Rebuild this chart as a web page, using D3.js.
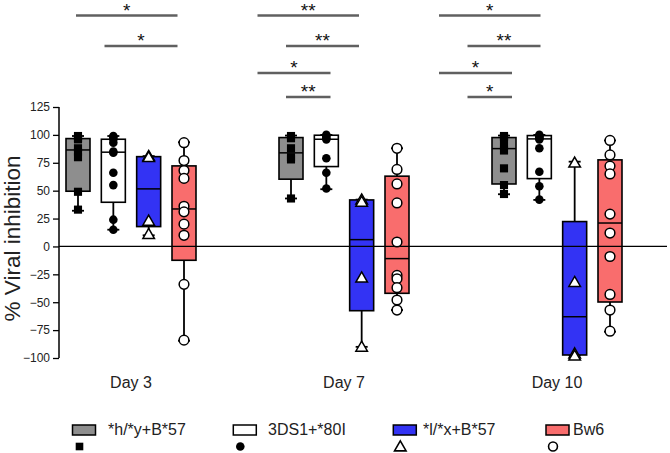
<!DOCTYPE html>
<html>
<head>
<meta charset="utf-8">
<script src="https://cdn.jsdelivr.net/npm/d3@7"></script>
<style>
  html, body { margin: 0; padding: 0; background: #fff; }
  svg { display: block; font-family: "Liberation Sans", Arial, sans-serif; }
</style>
</head>
<body>
<script>
// ---------------- data ----------------
const days = ["Day 3", "Day 7", "Day 10"];
const groups = ["*h/*y+B*57", "3DS1+*80I", "*l/*x+B*57", "Bw6"];
const yTicks = [-100, -75, -50, -25, 0, 25, 50, 75, 100, 125];

// box stats per day: [min, q1, median, q3, max]
const hyB57Box  = [[32, 49.5, 86.5, 96.7, 99], [43, 60.3, 83.9, 97.6, 99.4], [46.8, 56, 87.7, 97.6, 99.4]];
const ds1Box    = [[15, 39.6, 84.5, 96.1, 99], [51.3, 71.6, 96.1, 99.7, 100], [41.7, 60.8, 96.4, 99.4, 100]];
const lxB57Box  = [[10, 17.8, 51.6, 80.5, 81], [-90, -57.6, 6.1, 41.7, 42], [-97.5, -97.3, -63, 22.3, 76]];
const bw6Box    = [[-84.5, -12.4, 33.6, 72.2, 93.4], [-57, -42, -10.9, 63, 88], [-76.4, -49.8, 21, 77.6, 95]];

// individual points per day
const hyB57Pts = [[99, 97, 96, 88, 85, 80, 49, 33], [99, 97, 88, 80, 78, 43], [99, 98, 97, 90, 86, 70, 55, 47]];
const ds1Pts   = [[99, 98, 96, 93, 85, 84, 66, 55, 24, 15], [100, 99, 97, 96, 79, 66, 52], [100, 99, 98, 97, 96, 88, 67, 54, 42]];
const lxB57Pts = [[81, 80, 23, 11], [42, 40, -28, -90], [75, -32, -96, -98]];
const bw6Pts   = [[93, 77, 68, 61, 36, 31, 20, 10, -34, -84], [88, 69, 56, 39, 4, -26, -29, -37, -48, -57], [95, 82, 72, 65, 29, 12, -9, -43, -57, -76]];

// significance comparisons: [day, fromGroupIndex, toGroupIndex, row, label]
const comparisons = [
  ["Day 3", 0, 3, 0, "*"], ["Day 3", 1, 3, 1, "*"],
  ["Day 7", 0, 3, 0, "**"], ["Day 7", 1, 3, 1, "**"], ["Day 7", 0, 2, 2, "*"], ["Day 7", 1, 2, 3, "**"],
  ["Day 10", 0, 3, 0, "*"], ["Day 10", 1, 3, 1, "**"], ["Day 10", 0, 2, 2, "*"], ["Day 10", 1, 2, 3, "*"]
];

const boxSets = [hyB57Box, ds1Box, lxB57Box, bw6Box];
const ptSets = [hyB57Pts, ds1Pts, lxB57Pts, bw6Pts];

// ---------------- styles ----------------
const fills = ["#8e8e8e", "#ffffff", "#3333f4", "#f96d6d"];
const symbols = [d3.symbolSquare, d3.symbolCircle, d3.symbolTriangle, d3.symbolCircle];
const symSizes = [66, 58, 58, 74];
const symFill = ["#000", "#000", "#fff", "#fff"];
const symStroke = ["none", "none", "#000", "#000"];

const W = 670, H = 453;
const svg = d3.select("body").append("svg").attr("width", W).attr("height", H);

// scales
const y = d3.scaleLinear().domain([-100, 125]).range([358, 107]);
const xDay = d3.scalePoint().domain(days).range([131, 557]);
const xGroup = d3.scalePoint().domain(d3.range(groups.length)).range([-53, 53]);
const boxW = 24, capW = 12;
const cx = (di, gi) => xDay(days[di]) + xGroup(gi);

// y axis
const axisX = 59;
const yAxis = d3.axisLeft(y).tickValues(yTicks).tickSize(6).tickPadding(3);
const gy = svg.append("g").attr("transform", `translate(${axisX},0)`).call(yAxis);
gy.select(".domain").attr("stroke", "#000").attr("stroke-width", 1.5).attr("d", `M0,${y(125)}V${y(-100)}`);
gy.selectAll(".tick line").attr("stroke", "#000").attr("stroke-width", 1.3);
gy.selectAll(".tick text").attr("font-size", 12).attr("fill", "#222").attr("font-family", "Liberation Sans, Arial, sans-serif");

svg.append("text")
  .attr("transform", `translate(20,${(y(125) + y(-100)) / 2 + 6}) rotate(-90)`)
  .attr("text-anchor", "middle")
  .attr("font-size", 22.5)
  .attr("fill", "#222")
  .text("% Viral inhibition");

// boxes
const boxG = svg.append("g");
boxSets.forEach((set, gi) => {
  set.forEach((s, di) => {
    const [mn, q1, md, q3, mx] = s;
    const c = cx(di, gi);
    const g = boxG.append("g");
    g.append("line").attr("x1", c).attr("x2", c).attr("y1", y(mx)).attr("y2", y(q3))
      .attr("stroke", "#000").attr("stroke-width", 1.8);
    g.append("line").attr("x1", c).attr("x2", c).attr("y1", y(q1)).attr("y2", y(mn))
      .attr("stroke", "#000").attr("stroke-width", 1.8);
    [mx, mn].forEach(v => g.append("line").attr("x1", c - capW / 2).attr("x2", c + capW / 2)
      .attr("y1", y(v)).attr("y2", y(v)).attr("stroke", "#000").attr("stroke-width", 1.8));
    g.append("rect").attr("x", c - boxW / 2).attr("y", y(q3)).attr("width", boxW)
      .attr("height", y(q1) - y(q3)).attr("fill", fills[gi]).attr("stroke", "#000").attr("stroke-width", 1.6);
    g.append("line").attr("x1", c - boxW / 2).attr("x2", c + boxW / 2).attr("y1", y(md)).attr("y2", y(md))
      .attr("stroke", "#000").attr("stroke-width", 1.5);
  });
});

// zero line
svg.append("line").attr("x1", axisX).attr("x2", 667).attr("y1", y(0)).attr("y2", y(0))
  .attr("stroke", "#000").attr("stroke-width", 1.2);

// points
const ptG = svg.append("g");
ptSets.forEach((set, gi) => {
  set.forEach((pts, di) => {
    const c = cx(di, gi);
    ptG.selectAll(null).data(pts).enter().append("path")
      .attr("d", d3.symbol().type(symbols[gi]).size(symSizes[gi]))
      .attr("transform", v => `translate(${c},${y(v) + (gi === 2 ? 1 : 0)})`)
      .attr("fill", symFill[gi]).attr("stroke", symStroke[gi]).attr("stroke-width", 1.5);
  });
});

// day labels
svg.append("g").selectAll("text").data(days).enter().append("text")
  .attr("x", d => xDay(d)).attr("y", 388)
  .attr("text-anchor", "middle").attr("font-size", 16).attr("fill", "#222")
  .text(d => d);

// significance bars
const sigX = d3.scalePoint().domain(days).range([76, 439]);
const sigStep = 28.5, sigExt = 16;
const sigRowY = d3.scaleOrdinal().domain([0, 1, 2, 3]).range([15.5, 46, 73, 97]);
const sigG = svg.append("g");
comparisons.forEach(([d, a, b, row, lab]) => {
  const x1 = sigX(d) + a * sigStep, x2 = sigX(d) + b * sigStep + sigExt;
  const yy = sigRowY(row);
  sigG.append("line").attr("x1", x1).attr("x2", x2).attr("y1", yy).attr("y2", yy)
    .attr("stroke", "#606060").attr("stroke-width", 2.6);
  sigG.append("text").attr("x", (x1 + x2) / 2).attr("y", yy + 1).attr("text-anchor", "middle")
    .attr("font-size", 19).attr("fill", "#111").text(lab);
});

// legend
const legRectX = d3.scaleOrdinal().domain(d3.range(4)).range([72.5, 233.3, 393.3, 546]);
const legTextX = d3.scaleOrdinal().domain(d3.range(4)).range([108, 268, 423, 573]);
const leg = svg.append("g");
groups.forEach((name, gi) => {
  leg.append("rect").attr("x", legRectX(gi)).attr("y", 425).attr("width", 23).attr("height", 10)
    .attr("fill", fills[gi]).attr("stroke", "#000").attr("stroke-width", 1.5);
  leg.append("text").attr("x", legTextX(gi)).attr("y", 434.5).attr("font-size", 16).attr("fill", "#222").text(name);
  leg.append("path")
    .attr("d", d3.symbol().type(symbols[gi]).size(gi === 3 ? 62 : 58))
    .attr("transform", `translate(${legRectX(gi) + 7},${446.5 + (gi === 2 ? 1 : 0)})`)
    .attr("fill", symFill[gi]).attr("stroke", symStroke[gi]).attr("stroke-width", 1.6);
});
</script>
</body>
</html>
